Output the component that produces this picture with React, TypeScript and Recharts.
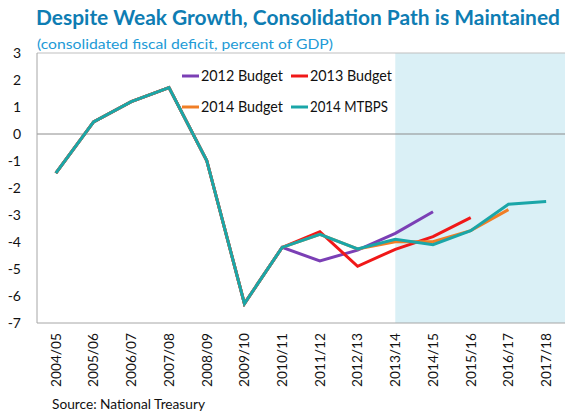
import React, { useLayoutEffect } from "react";
import { LineChart, Line, XAxis, YAxis, ReferenceArea, ReferenceLine } from "recharts";

const categories = ["2004/05","2005/06","2006/07","2007/08","2008/09","2009/10","2010/11","2011/12","2012/13","2013/14","2014/15","2015/16","2016/17","2017/18"];
const history = [-1.45, 0.45, 1.2, 1.72, -0.98, -6.28, -4.2];
const budget2012 = [...history, -4.7, -4.3, -3.68, -2.88, null, null, null];
const budget2013 = [...history, -3.62, -4.9, -4.27, -3.8, -3.1, null, null];
const budget2014 = [...history, -3.72, -4.26, -3.99, -3.99, -3.58, -2.8, null];
const mtbps2014 = [...history, -3.72, -4.26, -3.9, -4.1, -3.58, -2.6, -2.5];
const yTicks = [-7, -6, -5, -4, -3, -2, -1, 0, 1, 2, 3];

const seriesDefs = [
  { key: "b2012", name: "2012 Budget", color: "#7B3FB5", values: budget2012 },
  { key: "b2013", name: "2013 Budget", color: "#F01818", values: budget2013 },
  { key: "b2014", name: "2014 Budget", color: "#F07E26", values: budget2014 },
  { key: "m2014", name: "2014 MTBPS", color: "#1AA6A8", values: mtbps2014 },
];

const data = categories.map((c, i) => {
  const row: any = { idx: i, cat: c };
  seriesDefs.forEach((s) => { row[s.key] = s.values[i]; });
  return row;
});

const FONT = "Lato, 'Open Sans', sans-serif";

const XTick = (props: any) => {
  const { x, payload } = props;
  const y0 = 333;
  return (
    <text x={x} y={y0} transform={`rotate(-90 ${x} ${y0})`} textAnchor="end" dy="0.35em"
      fontSize={14} fontFamily={FONT} fill="#111" textLength={54} lengthAdjust="spacingAndGlyphs">
      {categories[payload.value]}
    </text>
  );
};

const legendPos = [
  { lx: 182, tx: 201, y: 76, w: 82 },
  { lx: 291, tx: 310, y: 76, w: 82 },
  { lx: 182, tx: 201, y: 107, w: 82 },
  { lx: 291, tx: 310, y: 107, w: 78 },
];

export default function App() {
  useLayoutEffect(() => {
    document.body.style.margin = "0";
    document.body.style.overflow = "hidden";
  }, []);
  return (
    <div style={{ position: "relative", width: 565, height: 412, background: "#fff", overflow: "hidden" }}>
      <div style={{ position: "absolute", left: 0, top: 0 }}>
        <LineChart width={565} height={412} data={data} margin={{ top: 53, right: 0, bottom: 19, left: 0 }}>
          <ReferenceArea x1={9} x2={13.5} y1={-7} y2={3} fill="#DAF0F6" fillOpacity={1} stroke="none" ifOverflow="hidden" />
          <XAxis dataKey="idx" type="number" domain={[-0.5, 13.5]} ticks={categories.map((_, i) => i)}
            interval={0} height={70} tick={<XTick />} tickLine={false} axisLine={{ stroke: "#A6A6A6" }} />
          <YAxis type="number" domain={[-7, 3]} ticks={yTicks} interval={0} width={37}
            tickLine={false} axisLine={{ stroke: "#A6A6A6" }}
            tick={{ fontSize: 14, fontFamily: FONT, fill: "#111" }} tickMargin={10} />
          <ReferenceLine y={0} stroke="#8C8C8C" strokeWidth={1} />
          <ReferenceLine y={3} stroke="#BFBFBF" strokeWidth={1} />
          {seriesDefs.map((s) => (
            <Line key={s.key} dataKey={s.key} name={s.name} stroke={s.color} strokeWidth={3}
              dot={false} isAnimationActive={false} connectNulls={false} />
          ))}
        </LineChart>
      </div>
      <svg width={565} height={412} style={{ position: "absolute", left: 0, top: 0, pointerEvents: "none" }}>
        <text x={36} y={25} fontSize={20} fontWeight="bold" fontFamily={FONT} fill="#0E7DB3"
          textLength={524} lengthAdjust="spacingAndGlyphs">Despite Weak Growth, Consolidation Path is Maintained</text>
        <text x={37} y={49} fontSize={14} fontFamily={FONT} fill="#229AD6"
          textLength={296} lengthAdjust="spacingAndGlyphs">(consolidated fiscal deficit, percent of GDP)</text>
        <text x={52} y={409} fontSize={14} fontFamily={FONT} fill="#111"
          textLength={153} lengthAdjust="spacingAndGlyphs">Source: National Treasury</text>
        {seriesDefs.map((s, i) => (
          <g key={s.key}>
            <line x1={legendPos[i].lx} x2={legendPos[i].lx + 17} y1={legendPos[i].y} y2={legendPos[i].y} stroke={s.color} strokeWidth={3} />
            <text x={legendPos[i].tx} y={legendPos[i].y + 5} fontSize={15} fontFamily={FONT} fill="#111"
              textLength={legendPos[i].w} lengthAdjust="spacingAndGlyphs">{s.name}</text>
          </g>
        ))}
      </svg>
    </div>
  );
}
